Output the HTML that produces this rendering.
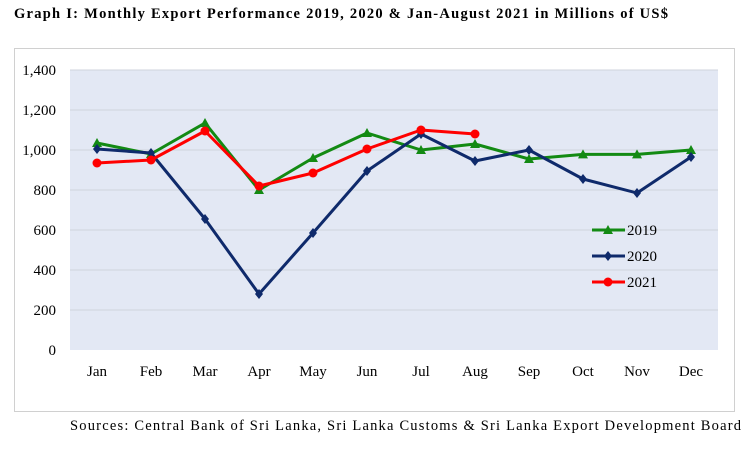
<!DOCTYPE html>
<html><head><meta charset="utf-8"><style>
body{margin:0;background:#fff;width:750px;height:444px;overflow:hidden;font-family:"Liberation Serif",serif}
</style></head><body>
<svg width="750" height="444">
<text x="14" y="18" font-size="14.5" font-weight="bold" textLength="654" lengthAdjust="spacing">Graph I: Monthly Export Performance 2019, 2020 &amp; Jan-August 2021 in Millions of US$</text>
<rect x="14.5" y="48.5" width="720" height="363" fill="#fff" stroke="#d0d0d0"/>
<rect x="70" y="70" width="648" height="280" fill="#e3e8f4"/>
<g id="grid"></g><g id="yt"></g><g id="xt"></g><g id="series"></g><g id="legend"></g>
<text x="70" y="430" font-size="14.5" textLength="671" lengthAdjust="spacing">Sources: Central Bank of Sri Lanka, Sri Lanka Customs &amp; Sri Lanka Export Development Board</text>
</svg>
<script>
const months=["Jan","Feb","Mar","Apr","May","Jun","Jul","Aug","Sep","Oct","Nov","Dec"];
const yTicks=[0,200,400,600,800,1000,1200,1400];
const yTickLabels=["0","200","400","600","800","1,000","1,200","1,400"];
const v2019=[1035,980,1135,800,960,1085,1000,1030,955,978,978,1000];
const v2020=[1005,985,655,280,585,895,1080,945,1000,855,785,965];
const v2021=[935,950,1095,820,885,1005,1100,1080];
const NS="http://www.w3.org/2000/svg";
const X=i=>70+54*i+27, Y=v=>350-v*0.2;
function mk(tag,at,parent){const e=document.createElementNS(NS,tag);for(const k in at)e.setAttribute(k,at[k]);document.getElementById(parent).appendChild(e);return e;}
yTicks.forEach((t,i)=>{
 if(t>0){const g=mk('line',{x1:70,x2:718,y1:Y(t),y2:Y(t),stroke:'#cfd3dc','stroke-width':1},'grid');
 
 }
 const l=mk('text',{x:56,y:Y(t)+5,'text-anchor':'end','font-size':15},'yt');l.textContent=yTickLabels[i];
 
 
});
months.forEach((m,i)=>{const l=mk('text',{x:X(i),y:376,'text-anchor':'middle','font-size':15},'xt');l.textContent=m;
 
 });
function marker(type,x,y,c,parent){
 let e;
 if(type==='tri')e=mk('path',{d:`M${x},${y-5}L${x+5},${y+4}L${x-5},${y+4}Z`,fill:c},parent);
 else if(type==='dia')e=mk('path',{d:`M${x},${y-5}L${x+4},${y}L${x},${y+5}L${x-4},${y}Z`,fill:c},parent);
 else e=mk('circle',{cx:x,cy:y,r:4.5,fill:c},parent);
 return e;
}
const series=[["2019",v2019,"#138a13","tri"],["2020",v2020,"#0f2a6b","dia"],["2021",v2021,"#ff0000","dot"]];
series.forEach(([name,vals,c,mt],si)=>{
 const p=mk('polyline',{points:vals.map((v,i)=>X(i)+','+Y(v)).join(' '),fill:'none',stroke:c,'stroke-width':3,'stroke-linejoin':'round'},'series');
 
 
 vals.forEach((v,i)=>{const m=marker(mt,X(i),Y(v),c,'series');
  
  });
 const ly=230+26*si;
 const ll=mk('line',{x1:592,x2:625,y1:ly,y2:ly,stroke:c,'stroke-width':3},'legend');
 
 
 marker(mt,608,ly,c,'legend');
 const lt=mk('text',{x:627,y:ly+5,'font-size':15},'legend');lt.textContent=name;
 
 
});
</script>
</body></html>
